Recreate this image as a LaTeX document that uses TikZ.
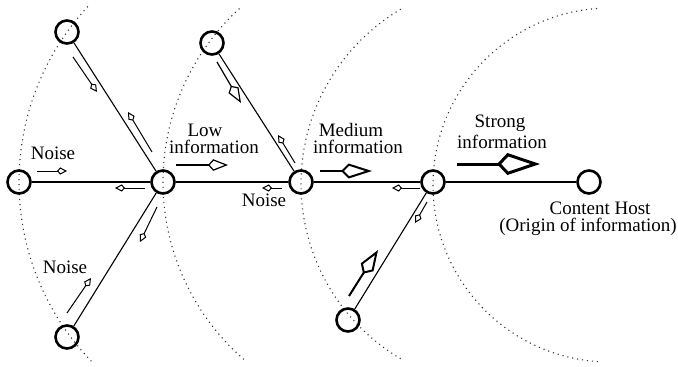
\documentclass[tikz,border=0pt]{standalone}
\usepackage{fontspec}
\setmainfont{Liberation Serif}
\usetikzlibrary{arrows.meta}
\begin{document}
\begin{tikzpicture}[x=0.5pt,y=-0.5pt,
  host/.style={circle,draw,line width=1.3pt,minimum size=11.5pt,inner sep=0pt},
  link/.style={line width=0.55pt},
  ring/.style={line width=0.55pt,black!80,dash pattern=on 0.55pt off 1.95pt},
  smallflow/.style={line width=0.5pt,-{Kite[open,length=5pt,width=3.6pt,inset=1.6pt]}},
  lowflow/.style={line width=0.6pt,-{Kite[open,length=10pt,width=5.8pt,inset=2.6pt]}},
  midflow/.style={line width=1pt,-{Kite[open,length=15.5pt,width=7.5pt,inset=3.8pt]}},
  boldflow/.style={line width=1pt,-{Kite[open,length=14pt,width=7.5pt,inset=3.8pt]}},
  strongflow/.style={line width=1.5pt,-{Kite[open,length=21.5pt,width=11pt,inset=5.2pt]}},
  lbl/.style={inner sep=0pt,font=\fontsize{9.5}{9.5}\selectfont}
]
\useasboundingbox (0,0) rectangle (678,366);
% dotted rings
\draw[ring] (277,182) ++(136:258) arc[start angle=136,end angle=223,radius=258];
\draw[ring] (398,182) ++(131:235) arc[start angle=131,end angle=228,radius=235];
\draw[ring] (504,184) ++(120.6:203) arc[start angle=120.6,end angle=240.1,radius=203];
\draw[ring] (610,185) ++(93.9:177) arc[start angle=93.9,end angle=266.8,radius=177];
% hosts
\node[host] (A) at (19,182) {};
\node[host] (B) at (163,182) {};
\node[host] (C) at (301,182) {};
\node[host] (D) at (433,182) {};
\node[host] (E) at (589,182) {};
\node[host] (TL) at (67,32) {};
\node[host] (BL) at (67,337) {};
\node[host] (T2) at (212,43) {};
\node[host] (B3) at (348,320) {};
% links
\draw[link] (A) -- (B);
\draw[link] (B) -- (C);
\draw[link] (C) -- (D);
\draw[link] (D) -- (E);
\draw[link] (TL) -- (B);
\draw[link] (BL) -- (B);
\draw[link] (T2) -- (C);
\draw[link] (B3) -- (D);
% flows
\draw[smallflow] (37,171) -- (67,171);
\draw[smallflow] (145,188) -- (115,188);
\draw[smallflow] (73,57) -- (97,92);
\draw[smallflow] (152,152) -- (128,112);
\draw[smallflow] (157,207) -- (140,242);
\draw[smallflow] (67,313) -- (91,278);
\draw[lowflow] (176,165) -- (228,165);
\draw[lowflow] (217,62) -- (241,103);
\draw[smallflow] (295,163) -- (278,135);
\draw[smallflow] (282,188) -- (262,188);
\draw[midflow] (320,171) -- (372,171);
\draw[smallflow] (420,188) -- (392,188);
\draw[smallflow] (427,202) -- (415,223);
\draw[boldflow] (349,296) -- (378,250);
\draw[strongflow] (457,164) -- (540,164);
% labels
\node[lbl] (n1) at (53,153) {Noise};
\node[lbl] (n2) at (65,267) {Noise};
\node[lbl] (n3) at (264,200) {Noise};
\node[lbl] (lo1) at (205,130) {Low};
\node[lbl] (lo2) at (214,147) {information};
\node[lbl] (me1) at (351,130) {Medium};
\node[lbl] (me2) at (358,147) {information};
\node[lbl] (st1) at (500,123) {Strong};
\node[lbl] (st2) at (502,142) {information};
\node[lbl] (ch1) at (600,208) {Content Host};
\node[lbl] (ch2) at (588,227) {(Origin of information)};
\end{tikzpicture}
\end{document}
